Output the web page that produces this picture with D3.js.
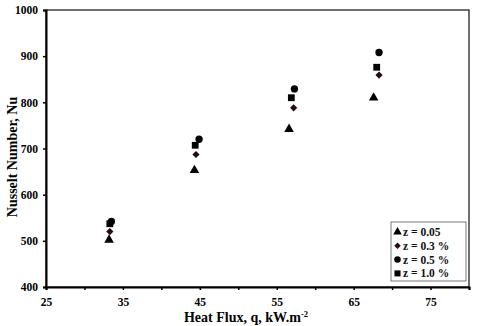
<!DOCTYPE html>
<html>
<head>
<meta charset="utf-8">
<script src="https://cdn.jsdelivr.net/npm/d3@7"></script>
<style>
  body { margin: 0; background: #fff; }
  svg { display: block; font-family: 'Liberation Serif', 'Times New Roman', serif; }
</style>
</head>
<body>
<svg></svg>
<script>
const w = 480;
const h = 326;

const seriesNames = ['z = 0.05', 'z = 0.3 %', 'z = 0.5 %', 'z = 1.0 %'];

// heat flux (x) and Nusselt number (y) for each series
const fluxA = [33.2, 44.3, 56.6, 67.6];
const nuA = [502, 653, 742, 810];
const fluxB = [33.3, 44.5, 57.2, 68.3];
const nuB = [520, 687, 788, 859];
const fluxC = [33.5, 44.9, 57.3, 68.3];
const nuC = [542, 720, 829, 908];
const fluxD = [33.3, 44.4, 56.9, 68.0];
const nuD = [537, 707, 810, 876];

const xTicks = [25, 30, 35, 40, 45, 50, 55, 60, 65, 70, 75, 80];
const xLabels = [25, 35, 45, 55, 65, 75];
const yTicks = [400, 500, 600, 700, 800, 900, 1000];

// diamond drawn as a rotated square
const series = [
  { name: seriesNames[0], shape: d3.symbolTriangle, rot: 0, x: fluxA, y: nuA, size: 40, color: '#000' },
  { name: seriesNames[1], shape: d3.symbolSquare, rot: 45, x: fluxB, y: nuB, size: 26, color: '#2a0a0a' },
  { name: seriesNames[2], shape: d3.symbolCircle, rot: 0, x: fluxC, y: nuC, size: 42, color: '#000' },
  { name: seriesNames[3], shape: d3.symbolSquare, rot: 0, x: fluxD, y: nuD, size: 46, color: '#000' }
];

const plotLeft = 46, plotRight = 469, plotTop = 10, plotBottom = 287;

const svg = d3.select('svg').attr('width', w).attr('height', h);

const xScale = d3.scaleLinear().domain([25, 80]).range([plotLeft, plotRight]);
const yScale = d3.scaleLinear().domain([400, 1000]).range([plotBottom, plotTop]);

// frame (top + right thinner)
svg.append('rect')
  .attr('x', plotLeft).attr('y', plotTop)
  .attr('width', plotRight - plotLeft).attr('height', plotBottom - plotTop)
  .attr('fill', 'none').attr('stroke', '#222').attr('stroke-width', 1.3);

const xAxis = d3.axisBottom(xScale)
  .tickValues(xTicks)
  .tickSize(3)
  .tickFormat((d) => (xLabels.includes(d) ? d : ''));

const gx = svg.append('g')
  .attr('transform', `translate(0, ${plotBottom})`)
  .call(xAxis);

const yAxis = d3.axisLeft(yScale).tickValues(yTicks).tickSize(3).tickFormat(d3.format('d'));

const gy = svg.append('g')
  .attr('transform', `translate(${plotLeft}, 0)`)
  .call(yAxis);

[gx, gy].forEach((g) => {
  g.select('.domain').attr('stroke', '#000').attr('stroke-width', 2);
  g.selectAll('.tick line').attr('stroke', '#000').attr('stroke-width', 1.5);
  g.selectAll('.tick text')
    .attr('fill', '#000')
    .style('font-family', "'Liberation Serif', serif")
    .style('font-weight', 'bold')
    .style('font-size', '11.5px');
});
gx.selectAll('.tick text').attr('y', 11).attr('dy', '0.71em');
gy.selectAll('.tick text').attr('x', -8);

const symbolTransform = (s, x, y) => `translate(${x}, ${y}) rotate(${s.rot})`;

// points
series.forEach((s) => {
  svg.append('g')
    .selectAll('path')
    .data(s.x.map((v, i) => [v, s.y[i]]))
    .enter()
    .append('path')
    .attr('d', d3.symbol().type(s.shape).size(s.size))
    .attr('transform', (d) => symbolTransform(s, xScale(d[0]), yScale(d[1])))
    .attr('fill', s.color);
});

// legend
const lg = svg.append('g').attr('transform', 'translate(391, 222)');
lg.append('rect')
  .attr('width', 75).attr('height', 59)
  .attr('fill', '#fff').attr('stroke', '#555').attr('stroke-width', 0.8);

series.forEach((s, i) => {
  const row = lg.append('g').attr('transform', `translate(0, ${10 + i * 13.8})`);
  row.append('path')
    .attr('d', d3.symbol().type(s.shape).size(s.size * 0.8))
    .attr('transform', symbolTransform(s, 6.5, 0))
    .attr('fill', s.color);
  row.append('text')
    .attr('x', 12).attr('y', 4)
    .style('font-size', '11.5px')
    .style('font-weight', 'bold')
    .attr('fill', '#111')
    .text(s.name);
});

// axis titles
svg.append('text')
  .attr('transform', 'translate(17, 157) rotate(-90)')
  .attr('text-anchor', 'middle')
  .style('font-size', '14px')
  .style('font-weight', 'bold')
  .text('Nusselt Number, Nu');

const xt = svg.append('text')
  .attr('x', 246).attr('y', 322)
  .attr('text-anchor', 'middle')
  .style('font-size', '14px')
  .style('font-weight', 'bold');
xt.append('tspan').text('Heat Flux, q, kW.m');
xt.append('tspan').attr('dy', -5).style('font-size', '8.5px').text('-2');
</script>
</body>
</html>
